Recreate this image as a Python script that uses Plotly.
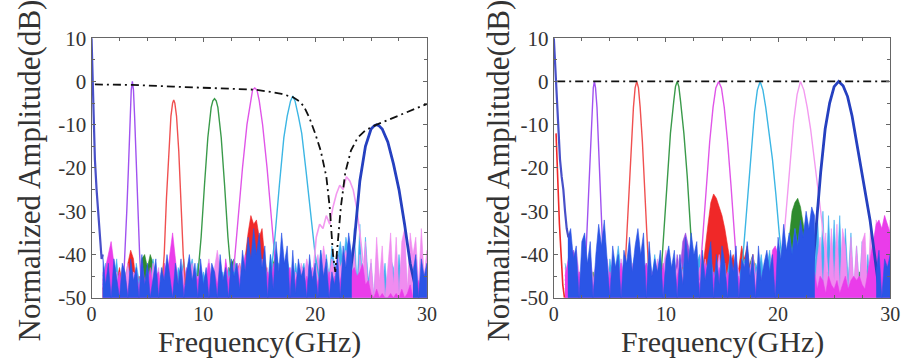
import plotly.graph_objects as go

# ---------------- axes / ticks ----------------
X_RANGE = [0, 30]
Y_RANGE = [-50, 10]
X_TICKS = [0, 10, 20, 30]
X_TICK_TEXT = ["0", "10", "20", "30"]
Y_TICKS = [10, 0, -10, -20, -30, -40, -50]
Y_TICK_TEXT = ["10", "0", "-10", "-20", "-30", "-40", "-50"]
X_TITLE = "Frequency(GHz)"
Y_TITLE = "Normalized Amplitude(dB)"
NOISE_STEP = 0.25  # GHz spacing of the noise-floor samples below

# ---------------- LEFT PANEL ----------------
L_DC_X = [0.0, 0.05, 0.15, 0.3, 0.45, 0.6, 0.75, 0.9, 1.0]
L_DC_Y = [10, 4, -8, -18, -25, -31, -35, -41, -40]

L_PURPLE_X = [2.85, 3.0, 3.15, 3.3, 3.45, 3.55, 3.65, 3.75, 3.85, 4.0, 4.15, 4.3, 4.45]
L_PURPLE_Y = [-47, -40, -30, -20, -8, -2, 0, -2, -8, -20, -30, -40, -47]
L_RED_X = [6.3, 6.5, 6.7, 6.9, 7.1, 7.25, 7.35, 7.45, 7.6, 7.8, 8.0, 8.2, 8.4]
L_RED_Y = [-47, -40, -27, -16, -8, -5, -4.3, -5, -8, -16, -27, -40, -47]
L_GREEN_X = [9.5, 9.8, 10.1, 10.4, 10.7, 10.85, 11.0, 11.15, 11.3, 11.6, 11.9, 12.2, 12.5]
L_GREEN_Y = [-45, -36, -24, -13, -6, -4.5, -4, -4.5, -6, -13, -24, -36, -45]
L_MAGENTA_X = [12.7, 13.1, 13.5, 13.9, 14.2, 14.4, 14.6, 14.8, 15.0, 15.3, 15.7, 16.1, 16.5]
L_MAGENTA_Y = [-44, -32, -20, -10, -4.5, -2, -1.5, -2, -4.5, -10, -20, -32, -44]
L_CYAN_X = [16.0, 16.4, 16.8, 17.2, 17.5, 17.8, 18.0, 18.2, 18.5, 18.8, 19.2, 19.6, 20.0, 20.4]
L_CYAN_Y = [-46, -36, -24, -13, -8, -4.5, -3.4, -4.5, -8, -12, -21, -31, -40, -46]
L_PINK_X = [19.8, 20.1, 20.4, 20.7, 21.0, 21.3, 21.6, 21.9, 22.2, 22.5, 22.8, 23.1, 23.4, 23.7, 24.0, 24.3]
L_PINK_Y = [-45, -36, -33, -34, -31, -33, -29, -26, -24, -25, -22, -23, -25, -29, -35, -42]
L_BLUE_X = [23.0, 23.5, 24.0, 24.5, 25.0, 25.3, 25.5, 25.7, 26.0, 26.5, 27.0, 27.5, 28.0, 28.5, 29.0]
L_BLUE_Y = [-47, -37, -23, -15, -11, -10.2, -10, -10.2, -11, -14, -19, -25, -33, -42, -48]

L_ENV_X = [0.3, 3.6, 7.3, 11.0, 14.6, 16.0, 17.0, 18.0, 18.6, 19.0, 19.5, 20.0, 20.5, 21.0,
           21.3, 21.6, 21.8, 22.0, 22.3, 22.7, 23.2, 23.8, 24.5, 25.4, 26.5, 27.5, 28.5, 29.5, 30.0]
L_ENV_Y = [-0.7, -0.8, -1.2, -1.6, -1.9, -2.4, -2.9, -3.6, -4.6, -5.8, -8.5, -12, -16, -22,
           -29, -40, -44, -38, -29, -21, -16, -13, -11.3, -10.1, -8.9, -7.9, -6.8, -5.7, -5.2]

L_PURPLE_NOISE_START = 1.0
L_PURPLE_NOISE = [-47, -44, -41, -39, -43, -46, -48, -45,
                  -47, -44, -46, -49, -45, -47, -44, -48,
                  -46, -49, -45, -47, -48, -44, -46, -49,
                  -45, -47, -49, -46, -44, -48, -47, -45,
                  -48, -46, -44, -47, -49, -45, -46, -48,
                  -47, -45, -48, -46, -49]
L_GREEN_NOISE_START = 1.0
L_GREEN_NOISE = [-48, -46, -49, -45, -47, -48, -46, -49,
                 -47, -45, -48, -46, -44, -49, -41, -40,
                 -43, -40, -42, -46, -48, -45, -47, -49,
                 -46, -48, -45, -47, -49, -46, -48, -45,
                 -47, -49, -46, -48, -45, -47, -49, -46,
                 -48, -45, -47, -46, -49, -44, -42, -41,
                 -44, -47, -45, -48, -46, -49, -45, -47,
                 -48, -45, -47, -44, -46, -42, -40, -43,
                 -47, -45, -49, -46, -48, -45, -47, -49,
                 -46, -48, -45, -47, -49, -46, -48, -45,
                 -47, -45, -49, -44, -43, -46, -48, -46,
                 -48]
L_RED_NOISE_START = 1.0
L_RED_NOISE = [-48, -45, -47, -44, -49, -46, -43, -47,
               -46, -42, -39, -41, -47, -45, -48, -46,
               -47, -44, -49, -45, -46, -48, -44, -47,
               -45, -48, -43, -47, -44, -49, -46, -45,
               -48, -46, -44, -49, -47, -45, -48, -46,
               -47, -44, -48, -45, -46, -43, -47, -45,
               -44, -42, -46, -40, -35, -31, -33, -32,
               -36, -34, -41, -45, -47]
L_CYAN_NOISE_START = 1.0
L_CYAN_NOISE = [-45, -42, -48, -44, -46, -41, -49, -43,
                -47, -43, -45, -49, -42, -46, -44, -48,
                -43, -47, -41, -46, -49, -44, -42, -47,
                -46, -42, -48, -43, -45, -41, -47, -44,
                -41, -46, -42, -48, -44, -47, -43, -49,
                -45, -42, -47, -44, -49, -43, -46, -41,
                -44, -48, -42, -45, -40, -46, -43, -47,
                -41, -45, -42, -47, -40, -44, -46, -42,
                -43, -47, -41, -45, -48, -42, -46, -44,
                -42, -47, -44, -49, -41, -45, -39, -44,
                -40, -45, -38, -43, -41, -37, -42, -36,
                -39, -48, -34, -47, -33, -49, -36, -46,
                -42, -50, -40, -49, -47, -42, -50, -41,
                -43, -49, -40, -47, -38, -50, -40, -45,
                -41, -48, -42, -46, -43]
L_PINK_NOISE_START = 1.0
L_PINK_NOISE = [-44, -48, -45, -42, -47, -44, -49, -43,
                -46, -42, -48, -44, -45, -49, -43, -47,
                -44, -48, -42, -46, -43, -49, -45, -41,
                -44, -47, -42, -48, -45, -43, -47, -44,
                -42, -47, -45, -43, -48, -44, -41, -46,
                -43, -39, -44, -48, -42, -46, -44, -47,
                -45, -42, -47, -43, -46, -41, -45, -48,
                -44, -41, -46, -43, -48, -45, -40, -44,
                -47, -42, -45, -43, -48, -44, -46, -42,
                -45, -41, -44, -47, -43, -40, -44, -38,
                -42, -45, -41, -44, -40, -43, -41, -39,
                -42, -48, -38, -50, -40, -47, -37, -49,
                -41, -50, -36, -46, -38, -50, -43, -35,
                -47, -36, -49, -37, -34, -48, -35, -40,
                -36, -47, -34, -45, -39]
L_MAGENTA_NOISE_START = 1.0
L_MAGENTA_NOISE = [-46, -43, -40, -37, -42, -47, -44, -48,
                   -45, -49, -43, -47, -44, -48, -42, -46,
                   -47, -43, -48, -45, -44, -49, -42, -46,
                   -40, -35, -41, -47, -44, -48, -43, -46,
                   -48, -44, -46, -43, -49, -45, -42, -47,
                   -44, -47, -43, -48, -41, -46, -44, -49,
                   -42, -46, -44, -40, -45, -42, -47, -44,
                   -46, -43, -48, -44, -47, -42, -46, -49,
                   -44, -48, -45, -43, -49, -46, -44, -47,
                   -48, -45, -47, -43, -49, -46, -44, -48,
                   -47, -44, -49, -45, -48, -46, -43, -47,
                   -46, -44, -43, -45, -44, -42, -47, -46,
                   -49, -50, -48, -50, -49, -50, -50, -49,
                   -50, -49, -50, -48, -50, -49, -47, -50,
                   -48, -46, -49, -47, -50]
L_BLUE_NOISE_START = 1.0
L_BLUE_NOISE = [-40, -47, -42, -50, -41, -45, -50, -42,
                -44, -50, -41, -46, -43, -50, -40, -47,
                -42, -50, -45, -41, -50, -43, -46, -40,
                -45, -50, -42, -47, -41, -50, -44, -40,
                -46, -42, -50, -41, -47, -43, -50, -42,
                -44, -50, -40, -46, -43, -50, -41, -45,
                -42, -48, -39, -44, -36, -41, -34, -40,
                -35, -43, -38, -50, -40, -48, -37, -44,
                -35, -42, -38, -50, -39, -49, -41, -45,
                -43, -50, -40, -46, -42, -50, -39, -45,
                -41, -50, -44, -47, -40, -50, -38, -43,
                -35, -40]
L_BLUE_NOISE2_START = 28.75
L_BLUE_NOISE2 = [-44, -40, -50, -41, -45, -42]

# ---------------- RIGHT PANEL ----------------
R_DC_X = [0.0, 0.1, 0.25, 0.4, 0.55, 0.7, 0.85, 1.0, 1.15, 1.3]
R_DC_Y = [10, 5, -5, -12, -18, -22, -25, -30, -34, -36]
R_REDDC_X = [0.2, 0.35, 0.5, 0.65, 0.8, 0.95]
R_REDDC_Y = [-12, -24, -33, -40, -47, -50]

R_PURPLE_X = [2.7, 2.9, 3.1, 3.25, 3.4, 3.52, 3.62, 3.72, 3.85, 4.0, 4.15, 4.35, 4.55]
R_PURPLE_Y = [-47, -38, -26, -16, -6, -1.5, 0, -1.5, -6, -16, -26, -38, -47]
R_RED_X = [6.3, 6.5, 6.7, 6.9, 7.1, 7.25, 7.4, 7.55, 7.7, 7.9, 8.1, 8.3, 8.5]
R_RED_Y = [-46, -36, -24, -14, -6, -1.5, 0, -1.5, -6, -14, -24, -36, -46]
R_GREEN_X = [9.5, 9.8, 10.1, 10.4, 10.7, 10.85, 11.0, 11.15, 11.3, 11.6, 11.9, 12.2, 12.5]
R_GREEN_Y = [-47, -35, -22, -12, -4.5, -1.2, 0, -1.2, -4.5, -12, -22, -35, -47]
R_MAGENTA_X = [13.0, 13.3, 13.6, 13.9, 14.2, 14.45, 14.7, 14.95, 15.2, 15.5, 15.8, 16.1, 16.4]
R_MAGENTA_Y = [-46, -35, -24, -14, -6, -1.5, 0, -1.5, -6, -14, -24, -35, -46]
R_CYAN_X = [16.7, 17.0, 17.3, 17.6, 17.9, 18.15, 18.4, 18.65, 18.9, 19.2, 19.5, 19.8, 20.1, 20.5]
R_CYAN_Y = [-46, -36, -25, -15, -7, -2, 0, -2, -6, -12, -18, -26, -35, -45]
R_PINK_X = [20.2, 20.5, 20.8, 21.1, 21.4, 21.7, 22.0, 22.3, 22.6, 22.9, 23.2, 23.5, 23.8, 24.1, 24.4]
R_PINK_Y = [-46, -37, -28, -18, -9, -3, 0, -2, -6, -11, -17, -23, -30, -37, -44]
R_BLUE_X = [23.0, 23.4, 23.8, 24.2, 24.6, 25.0, 25.4, 25.8, 26.2, 26.6, 27.0, 27.4, 27.8, 28.2, 28.6, 29.0]
R_BLUE_Y = [-46, -33, -21, -11, -5, -1.2, 0, -1, -3.5, -8, -14, -19, -25, -32, -40, -48]

R_ENV_X = [0.3, 30.0]
R_ENV_Y = [0, 0]

R_PURPLE_NOISE_START = 1.0
R_PURPLE_NOISE = [-46, -43, -40, -39, -42, -47, -44, -48,
                  -45, -42, -47, -44, -46, -43, -48, -45,
                  -43, -47, -44, -46, -42, -48, -45, -47,
                  -44, -46, -43, -48, -45, -42, -47, -44,
                  -46, -43, -48, -45, -42, -47, -44, -46,
                  -40, -44, -37, -35, -38, -42, -45, -41,
                  -44, -47, -43, -46, -48]
R_GREEN_NOISE_START = 1.0
R_GREEN_NOISE = [-47, -45, -48, -44, -49, -46, -47, -45,
                 -48, -46, -44, -47, -49, -45, -48, -46,
                 -45, -48, -46, -49, -44, -47, -45, -48,
                 -46, -44, -48, -45, -47, -49, -46, -44,
                 -48, -45, -47, -44, -46, -49, -45, -47,
                 -45, -48, -46, -44, -47, -45, -49, -46,
                 -47, -44, -46, -49, -45, -47, -44, -48,
                 -42, -45, -44, -47, -46, -49, -45, -43,
                 -47, -45, -42, -40, -44, -47, -45, -48,
                 -46, -44, -47, -45, -43, -46, -44, -40,
                 -36, -30, -28, -27, -29, -33, -38, -43,
                 -46, -44, -47, -45, -48, -46, -44, -47,
                 -45, -48, -46, -44, -47, -49, -45, -48,
                 -46, -44, -47, -45, -43, -46, -48, -45,
                 -47, -44, -46, -45, -48]
R_RED_NOISE_START = 1.0
R_RED_NOISE = [-48, -46, -49, -45, -47, -44, -48, -46,
               -47, -44, -48, -45, -49, -46, -43, -47,
               -45, -48, -44, -47, -49, -45, -47, -44,
               -46, -49, -45, -48, -44, -47, -46, -48,
               -47, -45, -48, -44, -46, -49, -45, -47,
               -44, -47, -43, -46, -48, -45, -42, -44,
               -41, -44, -38, -33, -28, -26, -27, -29,
               -31, -34, -38, -42, -40, -45, -43, -38,
               -41, -38, -44, -40, -45]
R_CYAN_NOISE_START = 1.0
R_CYAN_NOISE = [-42, -46, -39, -44, -41, -47, -43, -40,
                -45, -41, -47, -43, -40, -46, -42, -48,
                -41, -45, -43, -38, -44, -47, -42, -45,
                -43, -40, -46, -42, -48, -44, -41, -46,
                -40, -45, -42, -47, -43, -39, -45, -42,
                -46, -41, -44, -40, -47, -43, -45, -42,
                -40, -44, -42, -47, -41, -45, -43, -46,
                -42, -47, -44, -40, -46, -42, -45, -43,
                -41, -45, -43, -48, -42, -44, -40, -46,
                -43, -39, -45, -41, -38, -43, -36, -41,
                -35, -40, -34, -38, -33, -37, -31, -36,
                -30, -44, -29, -46, -30, -47, -31, -45,
                -32, -45, -31, -48, -34, -46, -35, -49,
                -38, -48, -37, -50, -40, -47, -41, -49,
                -42, -46, -40, -45, -43]
R_PINK_NOISE_START = 1.0
R_PINK_NOISE = [-43, -47, -41, -45, -39, -44, -46, -42,
                -44, -40, -46, -42, -47, -43, -45, -41,
                -46, -42, -44, -48, -41, -45, -43, -47,
                -42, -46, -40, -45, -43, -47, -41, -44,
                -45, -41, -47, -43, -39, -44, -46, -42,
                -44, -40, -45, -42, -47, -43, -41, -46,
                -43, -47, -41, -45, -42, -46, -44, -40,
                -45, -42, -47, -43, -46, -41, -44, -48,
                -42, -46, -43, -40, -45, -42, -47, -44,
                -41, -45, -43, -47, -40, -44, -42, -46,
                -43, -40, -45, -41, -44, -39, -43, -40,
                -42, -49, -41, -36, -48, -35, -47, -34,
                -46, -33, -48, -34, -38, -49, -36, -47,
                -38, -48, -37, -35, -49, -33, -46, -32,
                -35, -47, -31, -44, -32]
R_MAGENTA_NOISE_START = 1.0
R_MAGENTA_NOISE = [-45, -41, -38, -43, -47, -44, -48, -42,
                   -46, -43, -48, -44, -42, -47, -45, -49,
                   -44, -48, -43, -46, -42, -47, -45, -44,
                   -47, -43, -46, -49, -44, -42, -47, -45,
                   -43, -48, -45, -42, -47, -44, -46, -49,
                   -45, -42, -47, -44, -48, -43, -46, -44,
                   -47, -45, -42, -46, -49, -44, -47, -43,
                   -45, -48, -44, -46, -43, -47, -45, -49,
                   -44, -47, -45, -42, -48, -44, -46, -43,
                   -47, -45, -39, -38, -40, -44, -47, -45,
                   -48, -44, -46, -43, -47, -45, -49, -46,
                   -47, -44, -48, -45, -46, -49, -45, -47,
                   -48, -46, -49, -47, -45, -48, -46, -45,
                   -46, -45, -47, -48, -44, -40, -36, -33,
                   -32, -34, -31, -33, -35]
R_BLUE_NOISE_START = 1.25
R_BLUE_NOISE = [-36, -34, -41, -38, -50, -37, -35, -42,
                -37, -50, -40, -33, -38, -32, -41, -50,
                -38, -43, -40, -50, -39, -42, -36, -44,
                -38, -34, -40, -35, -50, -37, -45, -41,
                -44, -39, -50, -41, -38, -43, -39, -50,
                -40, -47, -36, -42, -35, -40, -37, -50,
                -39, -46, -41, -37, -50, -40, -47, -38,
                -42, -50, -39, -44, -38, -50, -41, -43,
                -37, -45, -40, -50, -38, -46, -42, -39,
                -44, -40, -50, -36, -41, -33, -39, -35,
                -40, -34, -38, -32, -36, -30, -34, -29,
                -31]
R_BLUE_NOISE2_START = 28.75
R_BLUE_NOISE2 = [-44, -39, -50, -41, -43, -40]

# ---------------- styling ----------------
C_PURPLE, C_RED, C_GREEN = "#a052f0", "#f05050", "#3a9a4a"
C_MAGENTA, C_CYAN, C_PINK, C_BLUE = "#e055e8", "#3cb6e4", "#f39af0", "#2540c0"
N_PURPLE, N_RED, N_GREEN = "#9a4de0", "#f02828", "#2e8b2e"
N_MAGENTA, N_CYAN, N_PINK, N_BLUE = "#ea3cea", "#3fb0f0", "#f08cf0", "#2b55e6"
FONT = "Liberation Serif"
W, H = 912, 364
FLOOR = Y_RANGE[0] - 3

fig = go.Figure()


def line(x, y, color, width, xa, ya, dash=None):
    fig.add_trace(go.Scatter(x=x, y=y, mode="lines", xaxis=xa, yaxis=ya, showlegend=False,
                             hoverinfo="skip", line=dict(color=color, width=width, dash=dash)))


def noise(start, vals, color, xa, ya):
    xs = [start + i * NOISE_STEP for i in range(len(vals))]
    fig.add_trace(go.Scatter(x=xs + [xs[-1], xs[0]], y=list(vals) + [FLOOR, FLOOR],
                             mode="lines", fill="toself", fillcolor=color, xaxis=xa, yaxis=ya,
                             line=dict(color=color, width=0.6), showlegend=False, hoverinfo="skip"))


panels = [
    dict(xa="x", ya="y",
         noise=[(L_PURPLE_NOISE_START, L_PURPLE_NOISE, N_PURPLE), (L_GREEN_NOISE_START, L_GREEN_NOISE, N_GREEN),
                (L_RED_NOISE_START, L_RED_NOISE, N_RED), (L_CYAN_NOISE_START, L_CYAN_NOISE, N_CYAN),
                (L_PINK_NOISE_START, L_PINK_NOISE, N_PINK), (L_MAGENTA_NOISE_START, L_MAGENTA_NOISE, N_MAGENTA)],
         peaks=[(L_PURPLE_X, L_PURPLE_Y, C_PURPLE, 1.4), (L_RED_X, L_RED_Y, C_RED, 1.4),
                (L_GREEN_X, L_GREEN_Y, C_GREEN, 1.4), (L_MAGENTA_X, L_MAGENTA_Y, C_MAGENTA, 1.4),
                (L_CYAN_X, L_CYAN_Y, C_CYAN, 1.4), (L_PINK_X, L_PINK_Y, C_PINK, 1.6),
                (L_BLUE_X, L_BLUE_Y, C_BLUE, 2.8)],
         blue=[(L_BLUE_NOISE_START, L_BLUE_NOISE), (L_BLUE_NOISE2_START, L_BLUE_NOISE2)],
         dc=[(L_DC_X, L_DC_Y, "#4850c8", 2.2)],
         env=(L_ENV_X, L_ENV_Y)),
    dict(xa="x2", ya="y2",
         noise=[(R_PURPLE_NOISE_START, R_PURPLE_NOISE, N_PURPLE), (R_GREEN_NOISE_START, R_GREEN_NOISE, N_GREEN),
                (R_RED_NOISE_START, R_RED_NOISE, N_RED), (R_CYAN_NOISE_START, R_CYAN_NOISE, N_CYAN),
                (R_PINK_NOISE_START, R_PINK_NOISE, N_PINK), (R_MAGENTA_NOISE_START, R_MAGENTA_NOISE, N_MAGENTA)],
         peaks=[(R_PURPLE_X, R_PURPLE_Y, C_PURPLE, 1.4), (R_RED_X, R_RED_Y, C_RED, 1.4),
                (R_GREEN_X, R_GREEN_Y, C_GREEN, 1.4), (R_MAGENTA_X, R_MAGENTA_Y, C_MAGENTA, 1.4),
                (R_CYAN_X, R_CYAN_Y, C_CYAN, 1.4), (R_PINK_X, R_PINK_Y, C_PINK, 1.4),
                (R_BLUE_X, R_BLUE_Y, C_BLUE, 2.8)],
         blue=[(R_BLUE_NOISE_START, R_BLUE_NOISE), (R_BLUE_NOISE2_START, R_BLUE_NOISE2)],
         dc=[(R_REDDC_X, R_REDDC_Y, N_RED, 1.6), (R_DC_X, R_DC_Y, "#4850c8", 2.2)],
         env=(R_ENV_X, R_ENV_Y)),
]

for p in panels:
    for start, vals, col in p["noise"]:
        noise(start, vals, col, p["xa"], p["ya"])
    for x, y, col, w in p["peaks"]:
        line(x, y, col, w, p["xa"], p["ya"])
    for start, vals in p["blue"]:
        noise(start, vals, N_BLUE, p["xa"], p["ya"])
    for x, y, col, w in p["dc"]:
        line(x, y, col, w, p["xa"], p["ya"])
    ex, ey = p["env"]
    line(ex, ey, "#111111", 1.8, p["xa"], p["ya"], dash="8px,4px,2px,4px")

ydom = [1 - 306 / H, 1 - 28 / H]
xdoms = [[88 / W, 429 / W], [558 / W, 900 / W]]

axis_common = dict(showline=True, mirror="ticks", linecolor="#666", linewidth=1.4,
                   ticks="inside", ticklen=4, tickwidth=1, tickcolor="#666",
                   showgrid=False, zeroline=False, tickfont=dict(family=FONT, size=21, color="#333"))

layout = dict(width=W, height=H, margin=dict(l=0, r=0, t=0, b=0),
              paper_bgcolor="white", plot_bgcolor="white", showlegend=False)
for i, (xd, suffix) in enumerate(zip(xdoms, ["", "2"])):
    layout["xaxis" + suffix] = dict(axis_common, domain=xd, range=X_RANGE, tickmode="array",
                                    tickvals=X_TICKS, ticktext=X_TICK_TEXT, anchor="y" + suffix,
                                    tickfont=dict(family=FONT, size=20, color="#333"),
                                    ticklabelstandoff=-2,
                                    minor=dict(dtick=2.5, tick0=0, ticks="inside", ticklen=3, tickcolor="#666"))
    layout["yaxis" + suffix] = dict(axis_common, domain=ydom, range=Y_RANGE, tickmode="array",
                                    tickvals=Y_TICKS, ticktext=Y_TICK_TEXT, anchor="x" + suffix,
                                    minor=dict(dtick=5, tick0=0, ticks="inside", ticklen=3, tickcolor="#666"))
fig.update_layout(**layout)

anns = []
for cx, tx in [(258.5, 25), (729, 502)]:
    anns.append(dict(text=X_TITLE, x=cx / W, y=1 - 353 / H, xref="paper", yref="paper",
                     xanchor="center", yanchor="middle", showarrow=False,
                     font=dict(family=FONT, size=30, color="#333")))
    anns.append(dict(text=Y_TITLE, x=tx / W, y=1 - 170 / H, xref="paper", yref="paper",
                     xanchor="center", yanchor="middle", textangle=-90, showarrow=False,
                     font=dict(family=FONT, size=31, color="#333")))
fig.update_layout(annotations=anns)

fig.write_html("out.html")
